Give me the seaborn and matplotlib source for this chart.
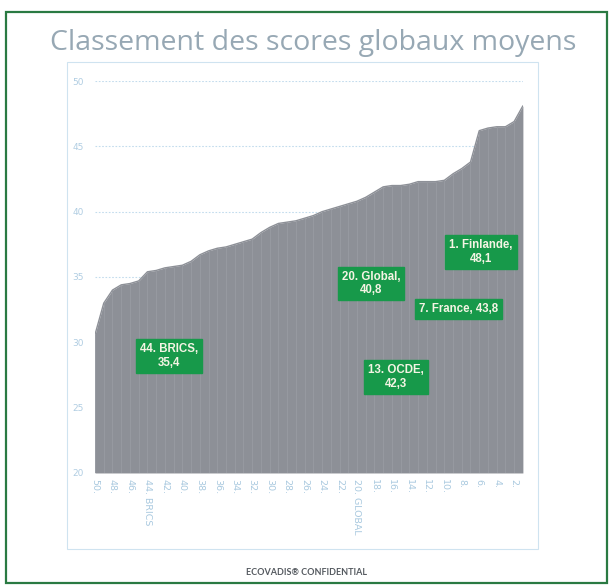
import numpy as np
import pandas as pd
import seaborn as sns
import matplotlib.pyplot as plt
from matplotlib.patches import Rectangle

# Rank (50 = lowest, 1 = highest) and average global score
ranks = list(range(50, 0, -1))
scores = [30.6, 33.0, 34.0, 34.4, 34.5, 34.7, 35.4, 35.5, 35.7, 35.8,
          35.9, 36.2, 36.7, 37.0, 37.2, 37.3, 37.5, 37.7, 37.9, 38.4,
          38.8, 39.1, 39.2, 39.3, 39.5, 39.7, 40.0, 40.2, 40.4, 40.6,
          40.8, 41.1, 41.5, 41.9, 42.0, 42.0, 42.1, 42.3, 42.3, 42.3,
          42.4, 42.9, 43.3, 43.8, 46.2, 46.4, 46.5, 46.5, 46.9, 48.1]
named = {44: 'BRICS', 20: 'GLOBAL'}
callouts = ['44. BRICS,\n35,4', '20. Global,\n40,8', '1. Finlande,\n48,1',
            '7. France, 43,8', '13. OCDE,\n42,3']

df = pd.DataFrame({'rank': ranks, 'score': scores})
df['pos'] = np.arange(len(df))

sns.set_style('white')
fig = plt.figure(figsize=(6.13, 5.85), dpi=100)
ax = fig.add_axes([0.155, 0.1915, 0.698, 0.670])

# gridlines
for v in [25, 30, 35, 40, 45, 50]:
    ax.axhline(v, color='#c3dced', lw=0.8, ls=(0, (1.5, 1.5)), zorder=0)

# area
ax.fill_between(df['pos'], 20, df['score'], color='#8d9097', lw=0, zorder=2)
sns.lineplot(data=df, x='pos', y='score', color='#8d9097', lw=1, ax=ax, zorder=3)
ax.vlines(df['pos'], 20, df['score'], color='#979aa1', lw=0.7, zorder=2)

ax.set_xlim(0, len(df) - 1)
ax.set_ylim(20, 50)
ax.set_yticks([20, 25, 30, 35, 40, 45, 50])
ax.tick_params(axis='y', length=0, labelsize=6.5, labelcolor='#b0cde2', pad=8)

# x labels every other rank
tick_pos = df['pos'][::2]
tick_lab = [f"{r}. {named[r]}" if r in named else f"{r}." for r in df['rank'][::2]]
ax.set_xticks(tick_pos)
ax.set_xticklabels(tick_lab, rotation=270, fontsize=6.8, color='#a9c9df', va='top', ha='center')
ax.tick_params(axis='x', length=0, pad=4)
ax.set_xlabel('')
ax.set_ylabel('')
sns.despine(ax=ax, left=True, bottom=True)

# green callouts, placed in data space
spots = [(8.5, 28.95), (31.6, 34.5), (44.2, 36.9), (41.6, 32.55), (34.5, 27.35)]
for txt, (x, y) in zip(callouts, spots):
    ax.text(x, y, txt, ha='center', va='center', fontsize=8.3, fontweight='bold',
            color='#f4f4e4', family='Liberation Sans', linespacing=1.15, zorder=5,
            bbox=dict(boxstyle='square,pad=0.35', fc='#17994a', ec='#17994a'))

# frames
fig.patches.append(Rectangle((0.0098, 0.0034), 0.980, 0.976, transform=fig.transFigure,
                             fill=False, ec='#2a7a42', lw=1.6))
fig.patches.append(Rectangle((0.109, 0.0615), 0.768, 0.8325, transform=fig.transFigure,
                             fill=False, ec='#cfe3f0', lw=0.8))

fig.text(0.511, 0.926, 'Classement des scores globaux moyens', ha='center', va='center',
         fontsize=20.5, color='#97a8b4', family='Open Sans')
fig.text(0.5, 0.022, 'ECOVADIS® CONFIDENTIAL', ha='center', va='center',
         fontsize=6.5, color='#555a60', family='Lato', fontweight='bold')

fig.savefig('out.png', dpi=100)
